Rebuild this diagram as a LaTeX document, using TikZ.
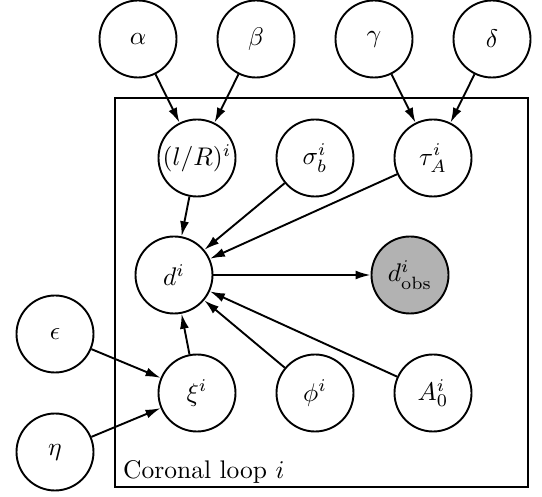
\documentclass[tikz,border=0pt]{standalone}
\usetikzlibrary{arrows.meta}
\newcommand{\T}[1]{\scalebox{2.55}{#1}}
\begin{document}
\begin{tikzpicture}[x=1pt,y=-1pt,
  var/.style={circle,draw,line width=1.9pt,minimum size=77pt,inner sep=0pt,fill=white},
  obs/.style={var,fill=black!30},
  edge/.style={line width=1.9pt,-{Latex[length=15pt,width=9pt]}},
  plate/.style={draw,line width=1.9pt}]
\useasboundingbox (0,0) rectangle (542,497);
\node[plate,minimum width=413pt,minimum height=389pt,inner sep=0pt] (plate) at (321.5,292.5) {};
\node[anchor=base west,inner sep=0pt] (lbl) at (123,479) {\T{Coronal loop $i$}};
\node[var] (alpha) at (138,39) {\T{$\alpha$}};
\node[var] (beta) at (256,39) {\T{$\beta$}};
\node[var] (gamma) at (374,39) {\T{$\gamma$}};
\node[var] (delta) at (492,39) {\T{$\delta$}};
\node[var] (lR) at (197,158) {\T{$(l/R)^i$}};
\node[var] (sigma) at (315,158) {\T{$\sigma_b^i$}};
\node[var] (tau) at (433,158) {\T{$\tau_A^i$}};
\node[var] (d) at (174,275) {\T{$d^i$}};
\node[obs] (dobs) at (410,275) {\T{$d_{\mathrm{obs}}^i$}};
\node[var] (eps) at (55,334) {\T{$\epsilon$}};
\node[var] (xi) at (197,393) {\T{$\xi^i$}};
\node[var] (phi) at (315,393) {\T{$\phi^i$}};
\node[var] (A) at (433,393) {\T{$A_0^i$}};
\node[var] (eta) at (55,452) {\T{$\eta$}};
\draw[edge] (alpha) -- (lR);
\draw[edge] (beta) -- (lR);
\draw[edge] (gamma) -- (tau);
\draw[edge] (delta) -- (tau);
\draw[edge] (lR) -- (d);
\draw[edge] (sigma) -- (d);
\draw[edge] (tau) -- (d);
\draw[edge] (d) -- (dobs);
\draw[edge] (xi) -- (d);
\draw[edge] (phi) -- (d);
\draw[edge] (A) -- (d);
\draw[edge] (eps) -- (xi);
\draw[edge] (eta) -- (xi);
\end{tikzpicture}
\end{document}
